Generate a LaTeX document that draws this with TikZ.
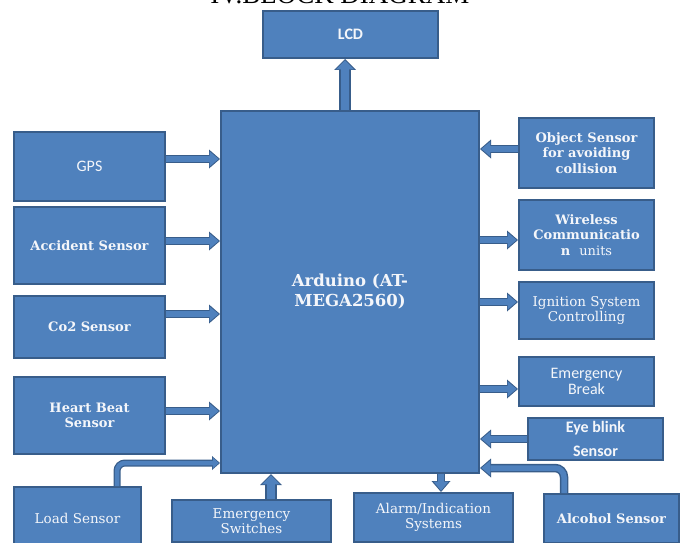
\documentclass[tikz,border=0pt]{standalone}
\usepackage{fontspec}
\usetikzlibrary{arrows.meta}
\setmainfont{Liberation Serif}
\newfontfamily\sansf{Carlito}
\newfontfamily\seriff{DejaVu Serif}
\definecolor{bfill}{HTML}{4F81BD}
\definecolor{bline}{HTML}{385D8A}
\definecolor{btext}{HTML}{F4F6FA}
\tikzset{
  box/.style={draw=bline, line width=2pt, fill=bfill, text=btext, align=center, anchor=north west, inner sep=1pt},
  sb/.style={font=\seriff\bfseries\fontsize{13}{15.5}\selectfont},
  sr/.style={font=\seriff\fontsize{13.5}{15.5}\selectfont},
  cs/.style={font=\sansf\fontsize{16}{16.5}\selectfont},
  csb/.style={font=\sansf\bfseries\fontsize{16}{16.5}\selectfont},
  barrow/.style={line width=5.5pt, draw=bfill, -{Triangle[width=15pt,length=9pt,line width=0pt]}, shorten >=1.4pt,
    preaction={draw=bline, line width=8.5pt, shorten >=0pt, -{Triangle[width=19pt,length=11pt,line width=0pt]}}},
  bigarrow/.style={line width=8.5pt, draw=bfill, -{Triangle[width=18pt,length=9pt,line width=0pt]}, shorten >=1.4pt,
    preaction={draw=bline, line width=11.5pt, shorten >=0pt, -{Triangle[width=22pt,length=11pt,line width=0pt]}}},
  smallarrow/.style={line width=4.5pt, draw=bfill, -{Triangle[width=11pt,length=6pt,line width=0pt]}, shorten >=1.2pt,
    preaction={draw=bline, line width=7pt, shorten >=0pt, -{Triangle[width=14pt,length=8pt,line width=0pt]}}},
}
\begin{document}
\begin{tikzpicture}[x=1pt,y=-1pt]
\useasboundingbox (0,0) rectangle (680,543);
% title (cut off at top)
\node[anchor=base, inner sep=0pt, font=\fontsize{27}{30}\selectfont] (title) at (340,3.5) {IV.BLOCK DIAGRAM};
% central block
\node[box, minimum width=258pt, minimum height=362pt, font=\seriff\bfseries\fontsize{16.5}{19}\selectfont] (ard) at (220,110) {\raisebox{4pt}{\shortstack{Arduino (AT-\\[2pt]MEGA2560)}}};
% top
\node[box, csb, minimum width=175pt, minimum height=47pt] (lcd) at (262,10) {LCD};
% left column
\node[box, cs, minimum width=151pt, minimum height=69pt] (gps) at (13,131) {GPS};
\node[box, sb, minimum width=151pt, minimum height=77pt] (acc) at (13,206) {Accident Sensor};
\node[box, sb, minimum width=151pt, minimum height=62pt] (co2) at (13,295) {Co2 Sensor};
\node[box, sb, minimum width=151pt, minimum height=77pt] (hb) at (13,376) {Heart Beat\\Sensor};
\node[box, sr, minimum width=127pt, minimum height=62pt] (load) at (13,486) {Load Sensor};
% bottom
\node[box, sr, minimum width=159pt, minimum height=42pt] (sw) at (171,499) {Emergency\\Switches};
\node[box, sr, minimum width=159pt, minimum height=49pt] (alarm) at (353,492) {Alarm/Indication\\Systems};
% right column
\node[box, sb, minimum width=135pt, minimum height=70pt] (obj) at (518,117) {Object Sensor\\for avoiding\\collision};
\node[box, sb, minimum width=135pt, minimum height=70pt] (wl) at (518,199) {Wireless\\Communicatio\\n\ \ {\mdseries units}};
\node[box, sr, minimum width=135pt, minimum height=57pt] (ign) at (518,281) {Ignition System\\Controlling};
\node[box, cs, minimum width=135pt, minimum height=49pt] (eb) at (518,356) {Emergency\\Break};
\node[box, csb, minimum width=135pt, minimum height=42pt, font=\sansf\bfseries\fontsize{16}{24}\selectfont] (eye) at (527,417) {Eye blink\\Sensor};
\node[box, sb, minimum width=135pt, minimum height=49pt] (alc) at (543,493) {Alcohol Sensor};
% connectors
\draw[bigarrow] (ard.north -| 345,0) -- (lcd.south -| 345,0);
\draw[barrow] (gps.east |- 0,159) -- (ard.west |- 0,159);
\draw[barrow] (acc.east |- 0,241) -- (ard.west |- 0,241);
\draw[barrow] (co2.east |- 0,314) -- (ard.west |- 0,314);
\draw[barrow] (hb.east |- 0,411) -- (ard.west |- 0,411);
\draw[smallarrow, rounded corners=8pt] (load.north -| 117,0) -- (117,463) -- (ard.west |- 0,463);
\draw[bigarrow] (sw.north -| 271,0) -- (ard.south -| 271,0);
\draw[barrow] (ard.south -| 441,0) -- (alarm.north -| 441,0);
\draw[barrow] (obj.west |- 0,149) -- (ard.east |- 0,149);
\draw[barrow] (ard.east |- 0,240) -- (wl.west |- 0,240);
\draw[barrow] (ard.east |- 0,302) -- (ign.west |- 0,302);
\draw[barrow] (ard.east |- 0,389) -- (eb.west |- 0,389);
\draw[barrow] (eye.west |- 0,439) -- (ard.east |- 0,439);
\draw[barrow, rounded corners=9pt] (alc.north -| 564,0) -- (564,468) -- (ard.east |- 0,468);
\end{tikzpicture}
\end{document}
